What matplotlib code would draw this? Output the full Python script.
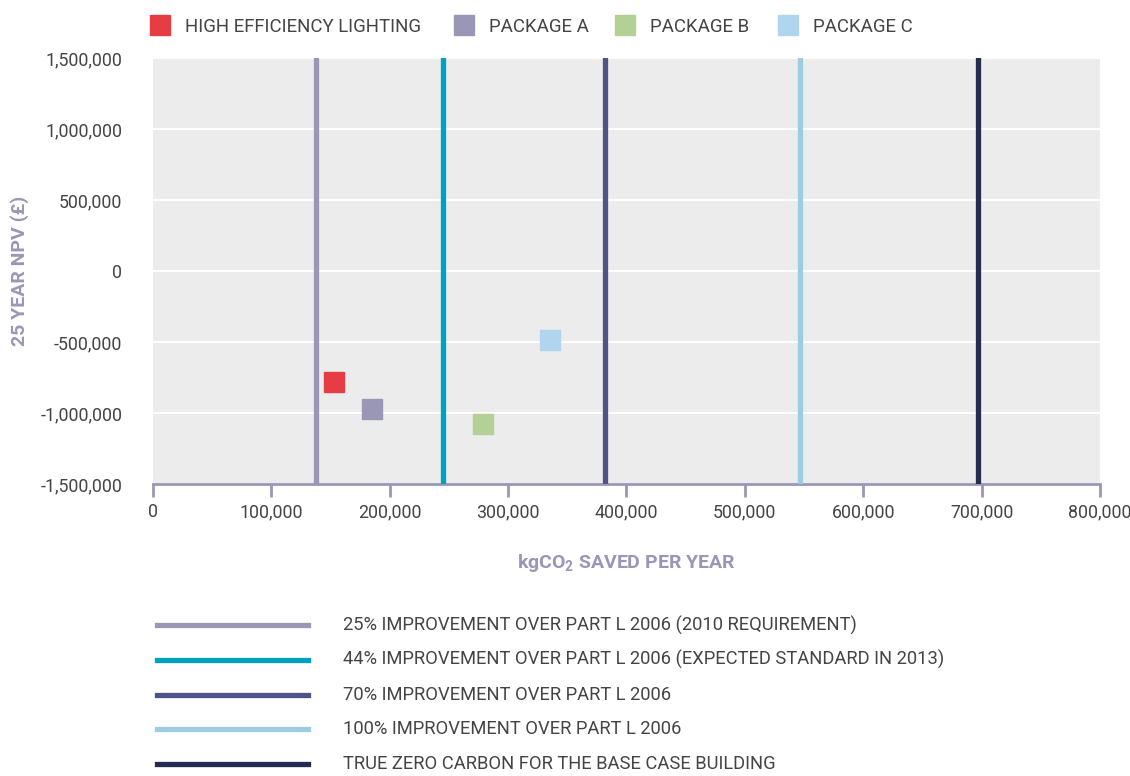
import matplotlib
matplotlib.use("Agg")
import matplotlib.pyplot as plt
from matplotlib.lines import Line2D
from matplotlib.ticker import FuncFormatter

plt.rcParams['font.family'] = ['Roboto', 'DejaVu Sans']
plt.rcParams['mathtext.fontset'] = 'custom'
plt.rcParams['mathtext.rm'] = 'Roboto:bold'
plt.rcParams['mathtext.it'] = 'Roboto:bold'
plt.rcParams['mathtext.bf'] = 'Roboto:bold'

# packages: kgCO2 saved per year vs 25 year NPV
packages = ['HIGH EFFICIENCY LIGHTING', 'PACKAGE A', 'PACKAGE B', 'PACKAGE C']
co2_saved = [153000, 185000, 279000, 335000]
npv = [-780000, -970000, -1078000, -484000]
pkg_colors = ['#e63c44', '#9a97b6', '#b3d197', '#b1d5ee']

# target lines
targets = ['25% IMPROVEMENT OVER PART L 2006 (2010 REQUIREMENT)',
           '44% IMPROVEMENT OVER PART L 2006 (EXPECTED STANDARD IN 2013)',
           '70% IMPROVEMENT OVER PART L 2006',
           '100% IMPROVEMENT OVER PART L 2006',
           'TRUE ZERO CARBON FOR THE BASE CASE BUILDING']
target_co2 = [138000, 245000, 382000, 547000, 697000]
target_colors = ['#9a97b6', '#00a0c0', '#4e5488', '#9ccde0', '#252c50']

x_ticks = [0, 100000, 200000, 300000, 400000, 500000, 600000, 700000, 800000]
y_ticks = [-1500000, -1000000, -500000, 0, 500000, 1000000, 1500000]

TEXT_COL = '#444444'
AXIS_COL = '#9a97b6'
FS = 12.8

W, H = 1130, 776
fig = plt.figure(figsize=(W / 100, H / 100), dpi=100)
ax = fig.add_axes([0.1354, 0.3763, 0.838, 0.549])
ax.set_facecolor('#ececec')

for x, col in zip(target_co2, target_colors):
    ax.axvline(x, color=col, lw=3.8, zorder=3)

pkg_handles = []
for x, y, col, lab in zip(co2_saved, npv, pkg_colors, packages):
    h, = ax.plot([x], [y], marker='s', ms=15, color=col, ls='none',
                 label=lab, zorder=4)
    pkg_handles.append(h)

ax.set_xlim(0, 800000)
ax.set_ylim(-1500000, 1500000)
ax.set_xticks(x_ticks)
ax.set_yticks(y_ticks)
fmt = FuncFormatter(lambda v, p: f'{int(v):,}')
ax.xaxis.set_major_formatter(fmt)
ax.yaxis.set_major_formatter(fmt)
ax.grid(axis='y', color='white', lw=1.5, zorder=1)
ax.set_axisbelow(True)

for s in ['left', 'right', 'top']:
    ax.spines[s].set_visible(False)
ax.spines['bottom'].set_color(AXIS_COL)
ax.spines['bottom'].set_linewidth(2)
ax.tick_params(axis='x', colors=AXIS_COL, length=9, width=2,
               labelcolor=TEXT_COL, labelsize=FS, pad=5)
ax.tick_params(axis='y', length=0, labelcolor=TEXT_COL, labelsize=FS, pad=22)

ax.set_xlabel(r'kgCO$_2$ SAVED PER YEAR', color=AXIS_COL, fontsize=14,
              fontweight='bold', labelpad=22)
ax.set_ylabel('25 YEAR NPV (£)', color=AXIS_COL, fontsize=14,
              fontweight='bold', labelpad=8)

# top key for the packages, one entry per slot
key_x = [149, 453, 614, 777]
for h, kx in zip(pkg_handles, key_x):
    leg = fig.legend(handles=[h], loc='upper left',
                     bbox_to_anchor=(kx / W, 1 - 18 / H),
                     frameon=False, fontsize=13.4, handletextpad=0.8,
                     handlelength=1.15, borderpad=0, borderaxespad=0)
    for t in leg.get_texts():
        t.set_color(TEXT_COL)

# bottom key for the target lines
row_top, row_gap = 625, 34.75
for i, (col, lab) in enumerate(zip(target_colors, targets)):
    yy = 1 - (row_top + i * row_gap) / H
    fig.add_artist(Line2D([157 / W, 308 / W], [yy, yy], color=col, lw=3.8,
                          transform=fig.transFigure))
    fig.text(343 / W, yy, lab, color=TEXT_COL, fontsize=13.2, va='center')

fig.savefig('out.png', dpi=100)
